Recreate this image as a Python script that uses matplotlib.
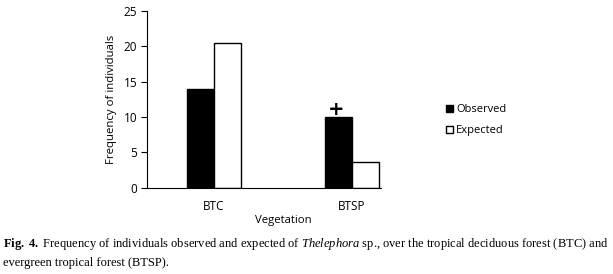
import matplotlib

matplotlib.use("Agg")
import matplotlib.pyplot as plt
from matplotlib.patches import Patch
import numpy as np

vegetation = ["BTC", "BTSP"]
observed = [14.0, 10.0]
expected = [20.5, 3.6]
yticks = [0, 5, 10, 15, 20, 25]
signif_mark = "+"

W, H = 613, 274
plt.rcParams["font.family"] = ["Open Sans", "DejaVu Sans"]
plt.rcParams["mathtext.fontset"] = "custom"
plt.rcParams["mathtext.rm"] = "Liberation Serif"
plt.rcParams["mathtext.it"] = "Liberation Serif:italic"
plt.rcParams["mathtext.bf"] = "Liberation Serif:bold"
fig = plt.figure(figsize=(W / 100, H / 100), dpi=100)

# axes box in pixel terms
left, right, top, bottom = 147, 381, 11, 187.7
ax = fig.add_axes([left / W, (H - bottom) / H, (right - left) / W, (bottom - top) / H])

x = np.arange(len(vegetation))
w = 0.196
ax.bar(x - w / 2, observed, w, color="black", edgecolor="black", linewidth=1)
ax.bar(x + w / 2, expected, w, color="white", edgecolor="black", linewidth=1)
ax.text(x[1] - w / 2 - 0.02, observed[1] - 0.35, signif_mark, ha="center", va="bottom",
        fontsize=14, fontweight="bold", family="DejaVu Sans")

ax.set_xlim(-0.486, 1.21)
ax.set_ylim(0, 25)
ax.set_yticks(yticks)
ax.set_xticks(x)
ax.set_xticklabels(vegetation, fontsize=8.5)
ax.tick_params(axis="x", length=0, pad=9)
ax.tick_params(axis="y", length=4, width=0.8, direction="out", labelsize=8.5, pad=3)
for s in ("top", "right"):
    ax.spines[s].set_visible(False)
for s in ("left", "bottom"):
    ax.spines[s].set_linewidth(0.8)
ax.set_ylabel("Frequency of individuals", fontsize=8.2, labelpad=5)

fig.text(283 / W, 1 - 220 / H, "Vegetation", ha="center", va="center", fontsize=8.2)

handles = [Patch(facecolor="black", edgecolor="black"),
           Patch(facecolor="white", edgecolor="black")]
fig.legend(handles, ["Observed", "Expected"], loc="upper left",
           bbox_to_anchor=(436 / W, 1 - 94 / H), frameon=False, fontsize=8,
           handlelength=0.6, handleheight=0.6, handletextpad=0.3, labelspacing=0.9)

cap_font = ["Liberation Serif", "DejaVu Serif"]
fig.text(3 / W, 1 - 244 / H,
         r"$\mathbf{Fig.\ 4.}$ Frequency of individuals observed and expected of "
         r"$\mathit{Thelephora}$ sp., over the tropical deciduous forest (BTC) and",
         ha="left", va="center", fontsize=9, family=cap_font)
fig.text(3 / W, 1 - 263 / H, "evergreen tropical forest (BTSP).",
         ha="left", va="center", fontsize=9, family=cap_font)

fig.savefig("out.png", dpi=100)
